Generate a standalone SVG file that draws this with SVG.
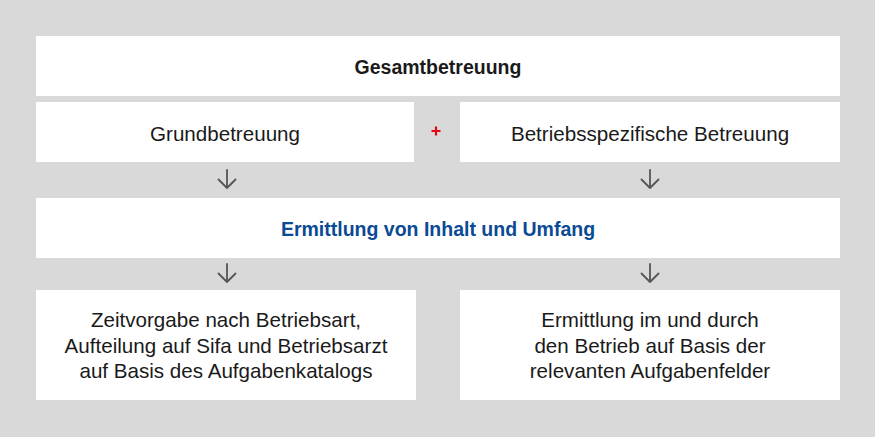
<svg xmlns="http://www.w3.org/2000/svg" width="875" height="437" viewBox="0 0 875 437">
<style>
.box{fill:#ffffff;}
.t{font-family:"Liberation Sans",Arial,sans-serif;font-size:20.6px;fill:#1a1a1a;text-anchor:middle;}
.b{font-weight:bold;font-size:19.5px;}
.blue{fill:#0b4a94;}
.arr{fill:none;stroke:#555555;stroke-width:1.8;stroke-linecap:round;stroke-linejoin:round;}
</style>
<rect x="0" y="0" width="875" height="437" fill="#d9d9d9"/>
<g id="n-gesamt">
<rect class="box" x="36" y="36" width="804" height="60"/>
<text class="t b" x="438" y="74">Gesamtbetreuung</text>
</g>
<g id="n-grund">
<rect class="box" x="36" y="102" width="378" height="60"/>
<text class="t" x="225" y="141">Grundbetreuung</text>
</g>
<g id="n-plus">
<path d="M431.5 131H440.5M436 126.5V135.5" stroke="#e30613" stroke-width="2.2" fill="none"/>
</g>
<g id="n-betrieb">
<rect class="box" x="460" y="102" width="380" height="60"/>
<text class="t" x="650" y="141">Betriebsspezifische Betreuung</text>
</g>
<g id="n-ermittlung">
<rect class="box" x="36" y="198" width="804" height="60"/>
<text class="t b blue" x="438" y="236">Ermittlung von Inhalt und Umfang</text>
</g>
<g id="n-zeit">
<rect class="box" x="36" y="290" width="380" height="110"/>
<text class="t" x="226" y="327">Zeitvorgabe nach Betriebsart,</text>
<text class="t" x="226" y="352.5">Aufteilung auf Sifa und Betriebsarzt</text>
<text class="t" x="226" y="378">auf Basis des Aufgabenkatalogs</text>
</g>
<g id="n-betr2">
<rect class="box" x="460" y="290" width="380" height="110"/>
<text class="t" x="650" y="327">Ermittlung im und durch</text>
<text class="t" x="650" y="352.5">den Betrieb auf Basis der</text>
<text class="t" x="650" y="378">relevanten Aufgabenfelder</text>
</g>
<g id="connectors">
<path class="arr" d="M227 170V188M218.5 179.5L227 188L235.5 179.5"/>
<path class="arr" d="M650 170V188M641.5 179.5L650 188L658.5 179.5"/>
<path class="arr" d="M227 264V282M218.5 273.5L227 282L235.5 273.5"/>
<path class="arr" d="M650 264V282M641.5 273.5L650 282L658.5 273.5"/>
</g>
</svg>
